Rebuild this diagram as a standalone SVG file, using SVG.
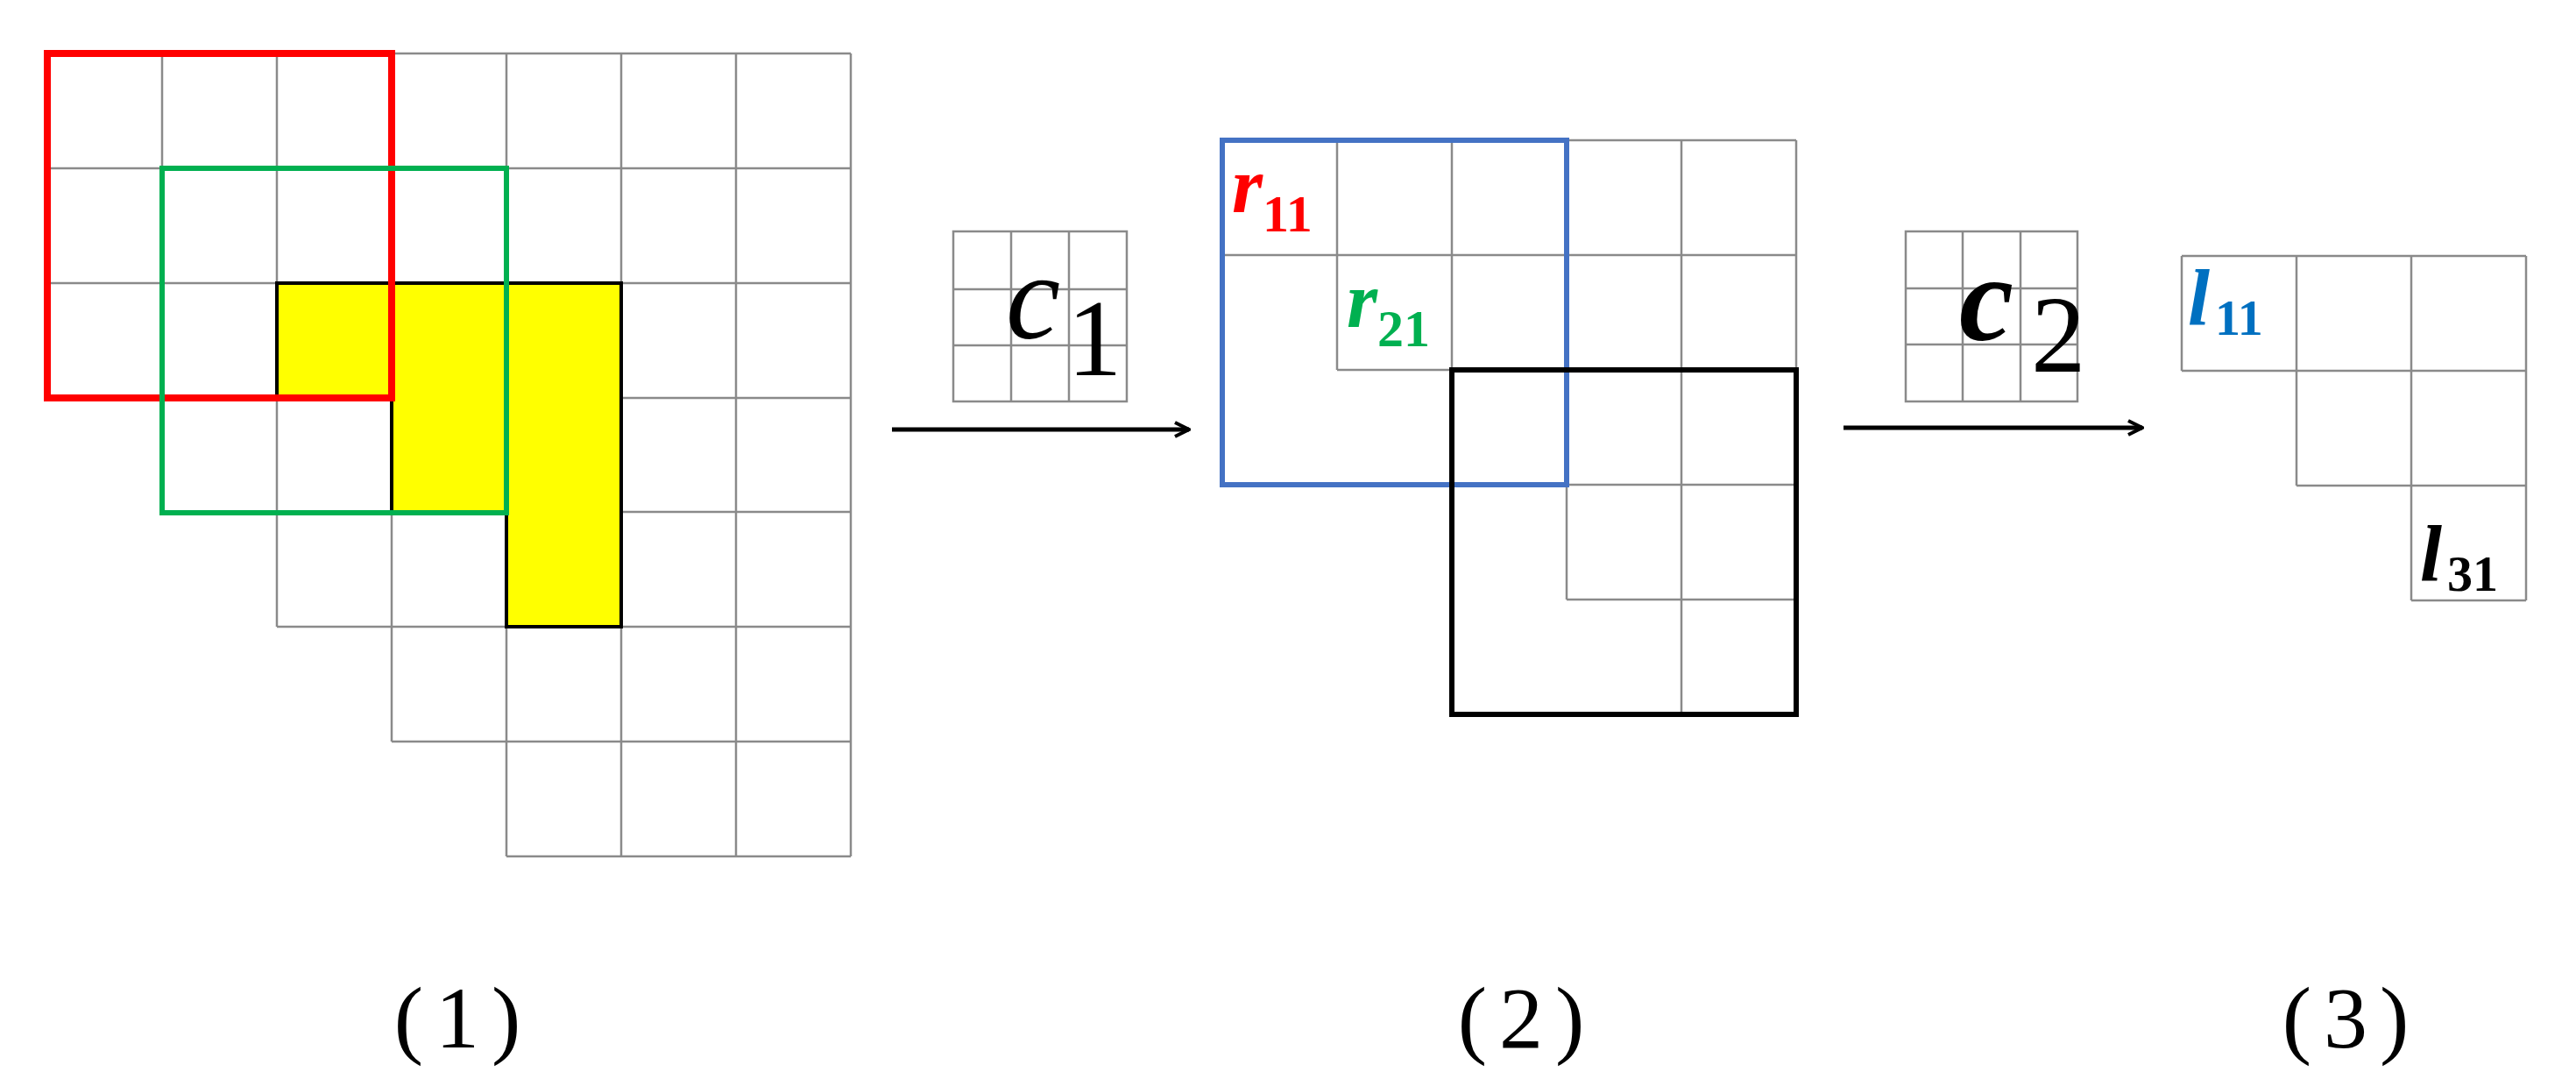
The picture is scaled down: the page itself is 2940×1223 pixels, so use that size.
<svg xmlns="http://www.w3.org/2000/svg" width="2940" height="1223" viewBox="0 0 2940 1223">
<style>
.g{stroke:#8a8a8a;stroke-width:2.5;fill:none}
.m{font-family:"Liberation Serif",serif;font-style:italic}
.s{font-family:"Liberation Serif",serif}
.cap{font-family:"Liberation Serif",serif;font-size:100px;text-anchor:middle;letter-spacing:14px}
</style>
<defs><marker id="ah" viewBox="0 0 20 20" refX="18" refY="10" markerWidth="20" markerHeight="20" markerUnits="userSpaceOnUse" orient="auto"><path d="M2,2 L18,10 L2,18" fill="none" stroke="#000" stroke-width="4"/></marker></defs>
<rect width="2940" height="1223" fill="#fff"/>
<g id="grid1">
<path class="g" d="M54,61H971M54,192H971M54,323H971M54,454H971M185,584H971M316,715H971M447,846H971M578,977H971M54,61V454M185,61V584M316,61V715M447,61V846M578,61V977M709,61V977M840,61V977M971,61V977"/>
<path d="M316,323H709V715H578V584H447V454H316Z" fill="#ffff00" stroke="#000" stroke-width="4"/>
<rect x="54" y="61" width="393" height="393" fill="none" stroke="#ff0000" stroke-width="8"/>
<rect x="185" y="192" width="393" height="393" fill="none" stroke="#00b050" stroke-width="6"/>
</g>
<g id="kernel1">
<path class="g" d="M1088,264H1286V458H1088ZM1154,264V458M1220,264V458M1088,330H1286M1088,394H1286"/>
<text class="m" x="1148" y="386" font-size="140">c</text>
<text class="s" x="1218" y="428" font-size="125">1</text>
</g>
<g id="grid2">
<path class="g" d="M1395,160H2050M1395,291H2050M1526,422H2050M1788,553H2050M1788,684H2050M1395,160V422M1526,160V422M1657,160V422M1788,160V684M1919,160V815M2050,160V815"/>
<rect x="1395" y="160" width="393" height="393" fill="none" stroke="#4472c4" stroke-width="6"/>
<rect x="1657" y="422" width="393" height="393" fill="none" stroke="#000" stroke-width="6"/>
<text x="1406" y="242" fill="#ff0000" font-weight="bold"><tspan class="m" font-size="90">r</tspan><tspan class="s" font-size="60" dy="22">11</tspan></text>
<text x="1537" y="373" fill="#00b050" font-weight="bold"><tspan class="m" font-size="90">r</tspan><tspan class="s" font-size="60" dy="22">21</tspan></text>
</g>
<g id="kernel2">
<path class="g" d="M2175,264H2371V458H2175ZM2240,264V458M2306,264V458M2175,329H2371M2175,393H2371"/>
<text class="m" x="2236" y="388" font-size="140" font-weight="bold">c</text>
<text class="s" x="2318" y="424" font-size="125">2</text>
</g>
<g id="grid3">
<path class="g" d="M2490,292H2883M2490,423H2883M2621,554H2883M2752,685H2883M2490,292V423M2621,292V554M2752,292V685M2883,292V685"/>
<text x="2497" y="370" fill="#0070c0" font-weight="bold"><tspan class="m" font-size="90">l</tspan><tspan class="s" font-size="58" dx="6" dy="12">11</tspan></text>
<text x="2762" y="662" fill="#000" font-weight="bold"><tspan class="m" font-size="90">l</tspan><tspan class="s" font-size="58" dx="6" dy="12">31</tspan></text>
</g>
<g id="connectors">
<line x1="1018" y1="490" x2="1357" y2="490" stroke="#000" stroke-width="5" marker-end="url(#ah)"/>
<line x1="2104" y1="488" x2="2445" y2="488" stroke="#000" stroke-width="5" marker-end="url(#ah)"/>
</g>
<g id="captions">
<text class="cap" x="529" y="1195">(1)</text>
<text class="cap" x="1743" y="1195">(2)</text>
<text class="cap" x="2684" y="1195">(3)</text>
</g>
</svg>
